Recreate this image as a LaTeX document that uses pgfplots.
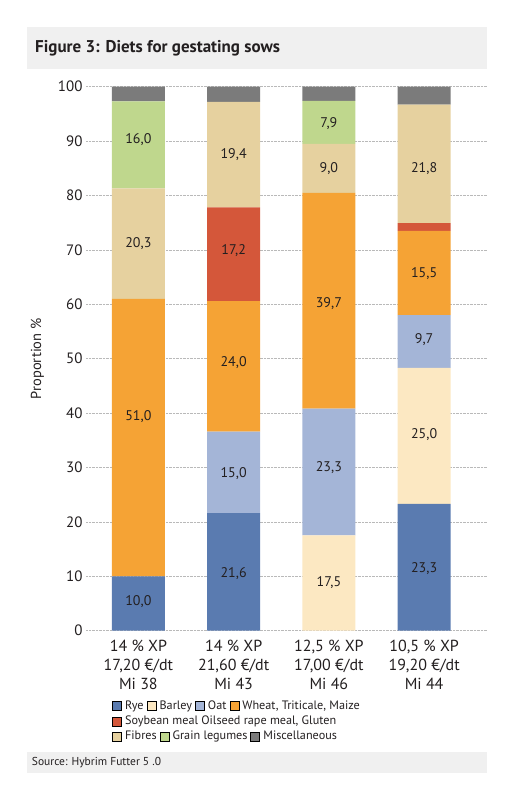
\documentclass[border=0pt]{standalone}
\usepackage{pgfplots}
\pgfplotsset{compat=1.18}
\usepackage{fontspec}
\setmainfont{PT Sans}
\definecolor{cRye}{HTML}{5A7BB0}
\definecolor{cBarley}{HTML}{FCE8C2}
\definecolor{cOat}{HTML}{A4B5D7}
\definecolor{cWheat}{HTML}{F5A335}
\definecolor{cSoy}{HTML}{D4573A}
\definecolor{cFibre}{HTML}{E6D19F}
\definecolor{cLeg}{HTML}{BFD78D}
\definecolor{cMisc}{HTML}{7B7B7B}
\definecolor{cBox}{HTML}{F0F0F0}
\definecolor{cText}{HTML}{231F20}
\pgfplotsset{
  frameaxis/.style={at={(86pt,169.3pt)}, anchor=south west, scale only axis, width=401pt, height=544pt},
  legaxis/.style={frameaxis, hide axis, xmin=0, xmax=1, ymin=0, ymax=1,
    legend columns=-1,
    legend style={at={(#1)}, anchor=west, draw=none, fill=none, inner sep=0pt,
      font=\fontsize{12.2}{13}\selectfont, text=cText,
      nodes={inner xsep=1.5pt, inner ysep=1pt},
      /tikz/every even column/.append style={column sep=1.5pt},
      /tikz/every odd column/.append style={column sep=2pt}},
    legend image code/.code={\fill[##1] (0pt,-4.5pt) rectangle (9pt,4.5pt);}},
}
\begin{document}
\begin{tikzpicture}[x=1pt,y=1pt]
\path[use as bounding box] (0,0) rectangle (520,800);
\fill[cBox] (27,731) rectangle (487,773.3);
\node[anchor=west, font=\fontsize{17}{20}\selectfont\bfseries, text=cText, inner sep=0] at (35,752) {Figure 3: Diets for gestating sows};
\fill[cBox] (27,26.7) rectangle (487,48.3);
\node[anchor=west, font=\fontsize{11.5}{14}\selectfont, text=cText, inner sep=0] at (31.7,37.5) {Source: Hybrim Futter 5 .0};
\begin{axis}[
  frameaxis,
  ybar stacked, bar width=53pt,
  xmin=-0.55, xmax=3.66, ymin=0, ymax=100,
  enlarge y limits=false,
  xtick={0,1,2,3},
  xticklabels={{14 \% XP\\17,20 €/dt\\Mi 38},{14 \% XP\\21,60 €/dt\\Mi 43},{12,5 \% XP\\17,00 €/dt\\Mi 46},{10,5 \% XP\\19,20 €/dt\\Mi 44}},
  xticklabel style={align=center, font=\fontsize{16}{19}\selectfont, text=cText, yshift=-5.5pt},
  ytick={0,10,...,100},
  yticklabel style={font=\fontsize{15}{17}\selectfont, text=cText},
  /pgf/number format/assume math mode=true,
  ymajorgrids,
  grid style={densely dotted, gray!55},
  axis line style={draw=none},
  major tick length=0pt,
  ylabel={Proportion \%},
  ylabel style={font=\fontsize{14.5}{16}\selectfont, text=cText, at={(axis description cs:-0.121,0.5)}, anchor=center, rotate=0},
]
\addplot[fill=cRye, draw=none] coordinates {(0,10.0) (1,21.6) (2,0) (3,23.3)};
\addplot[fill=cBarley, draw=none] coordinates {(0,0) (1,0) (2,17.5) (3,25.0)};
\addplot[fill=cOat, draw=none] coordinates {(0,0) (1,15.0) (2,23.3) (3,9.7)};
\addplot[fill=cWheat, draw=none] coordinates {(0,51.0) (1,24.0) (2,39.7) (3,15.5)};
\addplot[fill=cSoy, draw=none] coordinates {(0,0) (1,17.2) (2,0) (3,1.4)};
\addplot[fill=cFibre, draw=none] coordinates {(0,20.3) (1,19.4) (2,9.0) (3,21.8)};
\addplot[fill=cLeg, draw=none] coordinates {(0,16.0) (1,0) (2,7.9) (3,0)};
\addplot[fill=cMisc, draw=none] coordinates {(0,2.7) (1,2.8) (2,2.6) (3,3.3)};
\end{axis}
% value labels, placed at the centre of each segment
\begin{axis}[frameaxis, hide axis, xmin=-0.55, xmax=3.66, ymin=0, ymax=100]
\addplot[draw=none, mark=none, point meta=explicit symbolic, nodes near coords,
  nodes near coords align=center,
  every node near coord/.append style={anchor=center, font=\fontsize{14}{15}\selectfont, text=cText}]
 coordinates {
 (0,5.3)[10,0] (0,39.3)[51,0] (0,71.1)[20,3] (0,90.2)[16,0]
 (1,10.5)[21,6] (1,28.8)[15,0] (1,49.2)[24,0] (1,69.9)[17,2] (1,87.5)[19,4]
 (2,8.8)[17,5] (2,30.0)[23,3] (2,60.2)[39,7] (2,84.9)[9,0] (2,93.3)[7,9]
 (3,11.5)[23,3] (3,36.0)[25,0] (3,53.5)[9,7] (3,65.6)[15,5] (3,85.0)[21,8]
 };
\end{axis}
\begin{axis}[legaxis={0.0648,-0.1384}]
\addlegendimage{fill=cRye}\addlegendentry{Rye}
\addlegendimage{fill=cBarley}\addlegendentry{Barley}
\addlegendimage{fill=cOat}\addlegendentry{Oat}
\addlegendimage{fill=cWheat}\addlegendentry{Wheat, Triticale, Maize}
\end{axis}
\begin{axis}[legaxis={0.0648,-0.1667}]
\addlegendimage{fill=cSoy}\addlegendentry{Soybean meal Oilseed rape meal, Gluten}
\end{axis}
\begin{axis}[legaxis={0.0648,-0.1942}]
\addlegendimage{fill=cFibre}\addlegendentry{Fibres}
\addlegendimage{fill=cLeg}\addlegendentry{Grain legumes}
\addlegendimage{fill=cMisc}\addlegendentry{Miscellaneous}
\end{axis}
\end{tikzpicture}
\end{document}
